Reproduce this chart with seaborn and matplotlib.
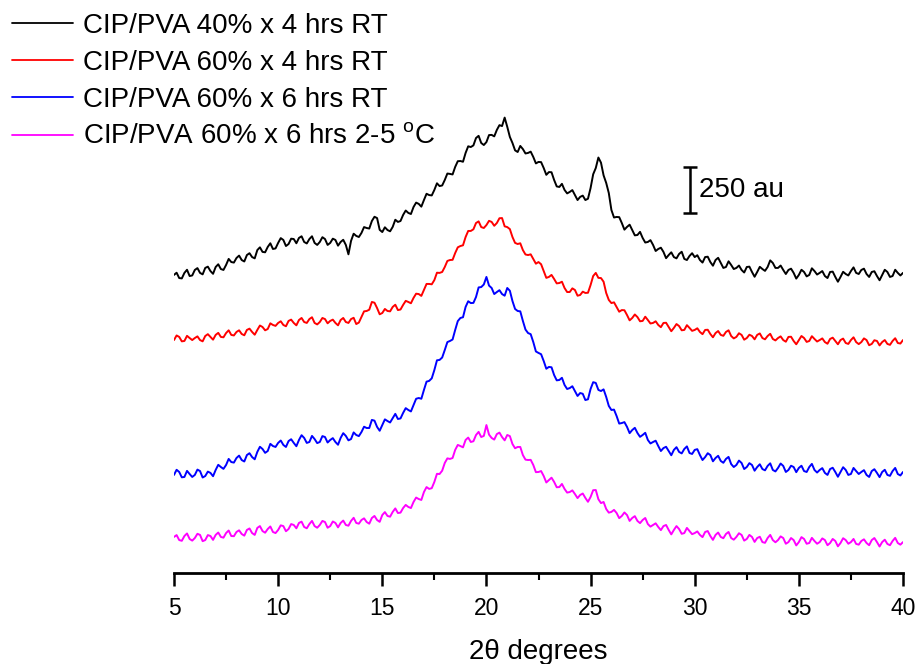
import numpy as np
import pandas as pd
import matplotlib
matplotlib.use("Agg")
import matplotlib.pyplot as plt
import seaborn as sns
from matplotlib.ticker import MultipleLocator

# 2-theta grid (degrees), 0.125 deg step
two_theta = np.linspace(5, 40, 281)

labels = [
    "CIP/PVA 40% x 4 hrs RT",
    "CIP/PVA 60% x 4 hrs RT",
    "CIP/PVA 60% x 6 hrs RT",
    "CIP/PVA 60% x 6 hrs 2-5 $^{\\mathrm{o}}$C",
]

# intensities (au)
black = [
    320, 332, 303, 301, 331, 348, 314, 317, 347, 357, 331, 323, 358, 365, 341, 326, 363, 378, 352, 347,
    374, 407, 390, 387, 412, 425, 401, 393, 428, 438, 417, 410, 455, 470, 445, 443, 472, 492, 461, 464,
    494, 520, 510, 477, 488, 517, 515, 492, 521, 530, 499, 491, 515, 530, 494, 483, 499, 525, 515, 483,
    494, 517, 510, 479, 499, 511, 483, 432, 505, 544, 532, 526, 548, 580, 575, 572, 613, 636, 629, 565,
    553, 579, 564, 557, 581, 620, 608, 613, 646, 670, 657, 651, 689, 713, 706, 691, 727, 761, 754, 752,
    782, 818, 803, 806, 836, 871, 869, 866, 907, 938, 939, 935, 983, 1019, 1015, 1024, 1064, 1076, 1037, 1026,
    1042, 1080, 1081, 1073, 1108, 1134, 1129, 1175, 1125, 1070, 1037, 997, 988, 1021, 1004, 980, 983, 990, 961, 926,
    934, 933, 901, 864, 879, 878, 836, 801, 798, 815, 782, 763, 771, 781, 754, 727, 744, 751, 727, 734,
    792, 867, 901, 958, 930, 861, 820, 765, 673, 632, 635, 634, 602, 566, 581, 593, 564, 535, 537, 554,
    521, 496, 499, 509, 483, 450, 461, 468, 445, 411, 428, 443, 417, 410, 434, 446, 407, 401, 423, 438,
    417, 427, 401, 387, 417, 419, 390, 370, 401, 413, 385, 358, 363, 394, 374, 352, 358, 371, 347, 333,
    363, 365, 336, 310, 336, 364, 352, 342, 363, 399, 385, 358, 358, 371, 347, 325, 347, 354, 331, 300,
    320, 348, 336, 312, 320, 356, 341, 322, 331, 341, 314, 303, 336, 338, 309, 283, 309, 337, 325, 317,
    341, 361, 331, 325, 347, 354, 325, 309, 336, 340, 314, 291, 320, 348, 336, 309, 314, 348, 331, 317,
    331,
]
red = [
    266, 291, 283, 259, 261, 289, 277, 266, 277, 286, 266, 259, 288, 298, 283, 268, 294, 305, 283, 281,
    304, 319, 294, 291, 310, 319, 299, 292, 321, 328, 310, 295, 321, 345, 337, 319, 326, 357, 348, 343,
    359, 368, 348, 341, 370, 377, 359, 346, 375, 386, 364, 359, 380, 390, 359, 351, 364, 386, 380, 357,
    370, 377, 359, 346, 375, 386, 364, 359, 380, 387, 353, 361, 391, 422, 424, 431, 473, 469, 440, 406,
    413, 435, 424, 422, 446, 458, 429, 432, 457, 479, 473, 466, 495, 518, 516, 506, 538, 571, 571, 569,
    592, 632, 631, 636, 663, 696, 701, 702, 739, 770, 777, 781, 826, 859, 859, 868, 902, 911, 880, 875,
    891, 914, 908, 887, 902, 928, 929, 884, 880, 869, 826, 794, 788, 792, 755, 731, 728, 732, 707, 681,
    690, 678, 641, 604, 609, 620, 598, 574, 576, 583, 549, 527, 527, 547, 538, 507, 511, 529, 522, 523,
    565, 614, 631, 604, 603, 583, 522, 484, 467, 471, 446, 420, 429, 428, 402, 373, 386, 405, 391, 368,
    370, 393, 375, 356, 359, 368, 348, 336, 359, 360, 337, 314, 332, 353, 342, 319, 321, 347, 332, 316,
    321, 330, 310, 298, 321, 322, 299, 281, 304, 315, 294, 289, 310, 319, 288, 275, 283, 303, 294, 268,
    277, 295, 288, 270, 294, 302, 277, 270, 288, 300, 272, 264, 277, 286, 266, 257, 283, 284, 261, 243,
    266, 288, 277, 256, 261, 287, 272, 258, 266, 275, 255, 246, 272, 279, 261, 243, 266, 274, 250, 245,
    266, 281, 255, 244, 255, 275, 266, 238, 245, 265, 261, 237, 255, 266, 245, 240, 261, 276, 250, 247,
    266,
]
blue = [
    233, 261, 249, 220, 222, 255, 238, 222, 233, 262, 254, 219, 227, 251, 244, 226, 260, 288, 276, 266,
    287, 320, 303, 300, 325, 338, 314, 306, 341, 351, 330, 318, 358, 386, 374, 353, 363, 402, 390, 385,
    407, 420, 396, 385, 417, 427, 407, 389, 423, 449, 434, 407, 412, 445, 428, 406, 412, 444, 439, 409,
    423, 433, 412, 397, 434, 460, 445, 421, 428, 464, 450, 444, 466, 495, 488, 488, 532, 528, 494, 473,
    504, 535, 526, 518, 542, 565, 537, 540, 570, 596, 586, 578, 613, 647, 651, 647, 695, 740, 744, 758,
    803, 856, 858, 871, 912, 955, 961, 969, 1021, 1069, 1086, 1090, 1146, 1177, 1167, 1168, 1200, 1252, 1254, 1268,
    1309, 1262, 1249, 1216, 1227, 1237, 1216, 1207, 1249, 1234, 1178, 1135, 1124, 1122, 1070, 1023, 1004, 998, 955, 904,
    896, 889, 852, 810, 820, 818, 776, 747, 749, 761, 722, 700, 705, 715, 689, 662, 678, 674, 640, 644,
    700, 737, 733, 695, 689, 698, 657, 608, 586, 588, 553, 512, 515, 520, 494, 460, 477, 489, 461, 440,
    450, 462, 423, 404, 412, 419, 390, 363, 379, 386, 363, 340, 369, 384, 358, 350, 374, 388, 352, 347,
    369, 373, 341, 314, 330, 351, 341, 307, 325, 337, 309, 299, 320, 331, 292, 276, 287, 311, 298, 265,
    276, 297, 287, 256, 276, 291, 265, 258, 282, 296, 260, 252, 271, 295, 282, 249, 260, 283, 276, 248,
    271, 283, 254, 249, 276, 293, 260, 246, 260, 270, 244, 233, 265, 272, 249, 223, 249, 275, 260, 233,
    238, 271, 254, 238, 249, 259, 233, 222, 254, 264, 244, 221, 249, 261, 233, 228, 254, 271, 238, 230,
    249,
]
magenta = [
    196, 206, 179, 175, 201, 215, 185, 176, 190, 213, 207, 173, 179, 206, 201, 180, 207, 220, 196, 192,
    217, 231, 201, 200, 223, 232, 212, 203, 234, 242, 217, 207, 245, 255, 228, 219, 239, 253, 223, 217,
    234, 259, 255, 227, 239, 266, 261, 243, 272, 279, 250, 243, 266, 283, 255, 246, 261, 283, 277, 246,
    255, 280, 272, 248, 272, 285, 261, 257, 283, 300, 272, 268, 288, 297, 277, 268, 299, 310, 288, 278,
    315, 331, 310, 306, 332, 351, 326, 328, 353, 370, 359, 353, 386, 410, 402, 397, 440, 467, 457, 461,
    495, 539, 538, 556, 598, 623, 620, 625, 669, 696, 690, 683, 723, 736, 712, 716, 750, 767, 739, 745,
    804, 752, 734, 725, 755, 763, 739, 721, 750, 744, 701, 678, 685, 685, 641, 616, 614, 615, 587, 548,
    549, 554, 527, 492, 505, 518, 495, 466, 467, 484, 457, 437, 440, 449, 429, 407, 424, 432, 408, 387,
    413, 450, 451, 401, 380, 386, 348, 328, 332, 343, 326, 298, 310, 329, 315, 283, 299, 309, 283, 271,
    288, 299, 266, 252, 261, 270, 250, 233, 255, 261, 234, 210, 234, 255, 239, 213, 217, 245, 228, 211,
    217, 226, 207, 195, 223, 228, 201, 180, 207, 220, 196, 189, 212, 223, 190, 181, 196, 216, 207, 176,
    185, 207, 196, 169, 190, 197, 168, 164, 190, 207, 179, 167, 179, 199, 190, 159, 168, 190, 179, 150,
    168, 195, 185, 159, 163, 191, 174, 159, 168, 188, 179, 151, 163, 185, 174, 145, 163, 189, 179, 159,
    168, 185, 158, 154, 174, 183, 163, 151, 179, 190, 168, 144, 168, 181, 158, 151, 174, 191, 163, 154,
    168,
]

series = [black, red, blue, magenta]
offsets = [1300, 1000, 300, 0]
colors = ["#000000", "#FF0000", "#0000FF", "#FF00FF"]

sns.set_style("white")
plt.rcParams["font.family"] = ["Liberation Sans", "DejaVu Sans"]
plt.rcParams["mathtext.fontset"] = "custom"
plt.rcParams["mathtext.rm"] = "Liberation Sans"
plt.rcParams["text.color"] = "black"
plt.rcParams["axes.labelcolor"] = "black"
plt.rcParams["xtick.color"] = "black"

frames = []
for lab, vals, off in zip(labels, series, offsets):
    frames.append(pd.DataFrame({"two_theta": two_theta,
                                "intensity": np.asarray(vals, dtype=float) + off,
                                "sample": lab}))
df = pd.concat(frames, ignore_index=True)

fig = plt.figure(figsize=(9.19, 6.64), dpi=100)
ax = fig.add_axes([174 / 919, 1 - 573 / 664, 729 / 919, 573 / 664])

sns.lineplot(data=df, x="two_theta", y="intensity", hue="sample", hue_order=labels,
             palette=dict(zip(labels, colors)), estimator=None, sort=False,
             linewidth=1.4, ax=ax, legend=True)

ax.set_xlim(5, 40)
ax.set_ylim(0, 573 * 250 / 46)
for s in ["top", "right", "left"]:
    ax.spines[s].set_visible(False)
ax.spines["bottom"].set_linewidth(2)
ax.spines["bottom"].set_color("black")
ax.xaxis.set_major_locator(MultipleLocator(5))
ax.xaxis.set_minor_locator(MultipleLocator(2.5))
ax.tick_params(axis="x", which="major", direction="out", length=9, width=1.8,
               labelsize=16.5, pad=8, bottom=True, colors="black")
ax.tick_params(axis="x", which="minor", direction="out", length=5, width=1.5, bottom=True)
ax.set_yticks([])
ax.set_ylabel("")
ax.set_xlabel("2θ degrees", fontsize=20, labelpad=14)

# scale bar
ax.errorbar(29.77, 2082, yerr=125, color="black", capsize=5, capthick=1.8, elinewidth=1.8)
ax.text(30.2, 2082, "250 au", fontsize=20, va="center", ha="left")

handles, labs = ax.get_legend_handles_labels()
for h in handles:
    h.set_linewidth(1.3)
ax.legend(handles, labs, loc="upper left", bbox_to_anchor=(12 / 919, 1 - 13 / 664),
          bbox_transform=fig.transFigure, frameon=False, fontsize=20,
          handlelength=2.2, handletextpad=0.36, labelspacing=0.40,
          borderpad=0, borderaxespad=0)

fig.savefig("out.png", dpi=100)
